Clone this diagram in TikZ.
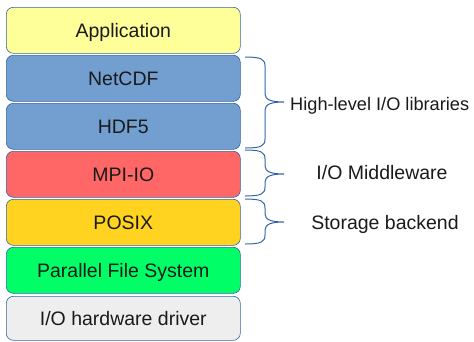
\documentclass[tikz,border=0pt]{standalone}
\usepackage{fontspec}
\setmainfont{Liberation Sans}
\definecolor{appcol}{HTML}{FFFF99}
\definecolor{libcol}{HTML}{729FCF}
\definecolor{mpicol}{HTML}{FF6666}
\definecolor{posixcol}{HTML}{FFD320}
\definecolor{pfscol}{HTML}{00FF66}
\definecolor{hwcol}{HTML}{EEEEEE}
\definecolor{edgecol}{HTML}{3465A4}
\definecolor{txtcol}{HTML}{1A1A1A}
\tikzset{
  layer/.style={draw=edgecol, line width=0.6pt, rounded corners=7pt, minimum width=234pt, minimum height=46pt, inner sep=0pt, text height=13.5pt, text depth=0pt, text=txtcol, font=\fontsize{19.5}{21}\selectfont, anchor=north west},
  bracelabel/.style={text=txtcol, font=\fontsize{19.5}{21}\selectfont, inner sep=0pt, text height=13.5pt, text depth=0pt},
  bracepath/.style={draw=edgecol, line width=1pt}
}
\begin{document}
\begin{tikzpicture}[x=1pt,y=-1pt]
\useasboundingbox (0,0) rectangle (474,341);
\node[layer, fill=appcol] (app) at (6,7) {Application};
\node[layer, fill=libcol] (netcdf) at (6,55) {NetCDF};
\node[layer, fill=libcol] (hdf) at (6,103) {HDF5};
\node[layer, fill=mpicol] (mpi) at (6,151) {MPI-IO};
\node[layer, fill=posixcol] (posix) at (6,199) {POSIX};
\node[layer, fill=pfscol] (pfs) at (6,247) {Parallel File System};
\node[layer, fill=hwcol, minimum height=44pt] (hw) at (6,296) {I/O hardware driver};
% braces
\coordinate (b1t) at (245,57); \coordinate (b1b) at (245,148); \coordinate (b1m) at (284,102);
\coordinate (b2t) at (245,150); \coordinate (b2b) at (245,196); \coordinate (b2m) at (284,174);
\coordinate (b3t) at (245,199); \coordinate (b3b) at (245,244); \coordinate (b3m) at (284,222);
\foreach \t/\m/\b in {b1t/b1m/b1b, b2t/b2m/b2b, b3t/b3m/b3b}{
  \draw[bracepath] (\t) .. controls ([xshift=16pt]\t) and ([xshift=20pt,yshift=-2pt]\t) .. ([xshift=20pt,yshift=-9pt]\t)
     -- ([xshift=-19pt,yshift=8pt]\m) .. controls ([xshift=-19pt,yshift=2pt]\m) and ([xshift=-12pt]\m) .. (\m)
     .. controls ([xshift=-12pt]\m) and ([xshift=-19pt,yshift=-2pt]\m) .. ([xshift=-19pt,yshift=-8pt]\m)
     -- ([xshift=20pt,yshift=9pt]\b) .. controls ([xshift=20pt,yshift=2pt]\b) and ([xshift=16pt]\b) .. (\b);
}
\node[bracelabel, anchor=west, font=\fontsize{18.2}{20}\selectfont, text height=12.8pt] (l1) at (290,104.5) {High-level I/O libraries};
\node[bracelabel] (l2) at (382,173.2) {I/O Middleware};
\node[bracelabel] (l3) at (385,223.2) {Storage backend};
\end{tikzpicture}
\end{document}
